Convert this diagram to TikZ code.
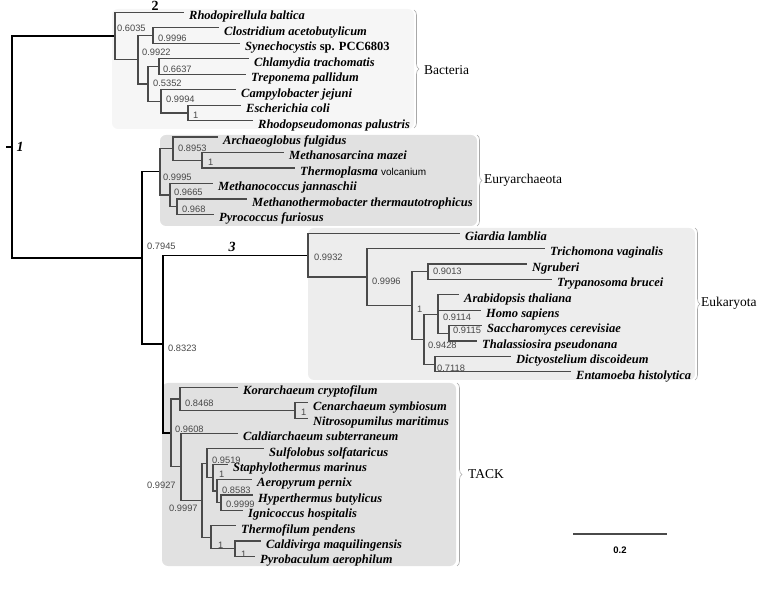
\documentclass[tikz,border=0pt]{standalone}
\usepackage{fontspec}
\setmainfont{Liberation Serif}
\newfontfamily\supfont{Liberation Sans}
\usepackage{tikz}
\usetikzlibrary{decorations.pathreplacing}

\definecolor{boxlight}{HTML}{F6F6F6}
\definecolor{boxdark}{HTML}{E1E1E1}
\definecolor{boxmid}{HTML}{EDEDED}
\definecolor{branchgray}{HTML}{4A4A4A}
\definecolor{bracegray}{HTML}{A8A8A8}
\definecolor{supgray}{HTML}{484848}

\begin{document}
\begin{tikzpicture}[x=1pt, y=-1pt,
    br/.style    ={draw=branchgray, line width=1.2pt},
    bb/.style    ={draw=black, line width=1.2pt},
    clade/.style ={fill=#1, rounded corners=6pt},
    cbrace/.style={draw=bracegray, line width=0.6pt, decorate,
                   decoration={brace, amplitude=5pt}},
    taxon/.style ={anchor=base west, inner sep=0pt, xshift=5pt, yshift=-7.3pt,
                   font=\fontsize{12.5}{14}\selectfont\bfseries\itshape},
    bs/.style    ={anchor=west, inner sep=0pt, text=supgray,
                   font=\supfont\fontsize{9.3}{10}\selectfont},
    group/.style ={anchor=west, inner sep=0pt, font=\fontsize{13.5}{15}\selectfont},
    nodeno/.style={inner sep=0pt, font=\fontsize{14}{16}\selectfont\bfseries\itshape}
  ]
  \useasboundingbox (0,0) rectangle (769,593);

  % clade boxes and braces
  \fill[clade=boxlight] (112,9)   rectangle (414,129);
  \fill[clade=boxdark]  (160,135) rectangle (477,226);
  \fill[clade=boxmid]   (308,228) rectangle (695,380);
  \fill[clade=boxdark]  (162,383) rectangle (456,566);
  \draw[cbrace] (414,10)  -- (414,128);
  \draw[cbrace] (477,135) -- (477,226);
  \draw[cbrace] (695,228) -- (695,380);
  \draw[cbrace] (457,383) -- (457,566);
  \node[group] (gBac) at (424,70)  {Bacteria};
  \node[group] (gEur) at (484,180) {Euryarchaeota};
  \node[group] (gEuk) at (701,303) {Eukaryota};
  \node[group] (gTac) at (468,474) {TACK};

  % backbone
  \coordinate (r0)   at (6,147);
  \coordinate (root) at (12,147);
  \coordinate (a0)   at (142,258);
  \coordinate (a1)   at (163,344.1);

  % Bacteria
  \coordinate (b0) at (115,36.0);
  \coordinate (b1) at (138,59.8);
  \coordinate (b2) at (153,35.5);
  \coordinate (b3) at (148,84.0);
  \coordinate (c1) at (159,66.5);
  \coordinate (c2) at (161,101.4);
  \coordinate (e1) at (188,113.0);
  \coordinate (rba) at (184,12.3);
  \coordinate (cac) at (219,27.8);
  \coordinate (syn) at (240,43.3);
  \coordinate (ctr) at (249,58.8);
  \coordinate (tpa) at (246,74.3);
  \coordinate (cje) at (236,89.8);
  \coordinate (eco) at (241,105.3);
  \coordinate (rpa) at (253,120.8);

  % Euryarchaeota
  \coordinate (e0) at (160,171.9);
  \coordinate (ea) at (173,148.6);
  \coordinate (em) at (202,160.25);
  \coordinate (eb) at (170,195.1);
  \coordinate (ep) at (177,206.75);
  \coordinate (afu) at (218,137.0);
  \coordinate (mma) at (284,152.5);
  \coordinate (tvo) at (295,168.0);
  \coordinate (mja) at (213,183.5);
  \coordinate (mth) at (247,199.0);
  \coordinate (pfu) at (214,214.5);

  % Eukaryota
  \coordinate (k0) at (308,255.2);
  \coordinate (k1) at (367,277.1);
  \coordinate (k2) at (412,305.5);
  \coordinate (n1) at (428,271.8);
  \coordinate (k3) at (424,339.2);
  \coordinate (k4) at (438,314.15);
  \coordinate (s1) at (449,333.4);
  \coordinate (d1) at (435,364.2);
  \coordinate (gla) at (460,233.3);
  \coordinate (tva) at (545,248.7);
  \coordinate (ngr) at (527,264.1);
  \coordinate (tbr) at (552,279.5);
  \coordinate (ath) at (459,294.9);
  \coordinate (hsa) at (481,310.3);
  \coordinate (sce) at (482,325.7);
  \coordinate (tps) at (477,341.1);
  \coordinate (ddi) at (511,356.5);
  \coordinate (ehi) at (571,371.9);

  % TACK
  \coordinate (t0) at (171,433.0);
  \coordinate (kg) at (180,399.0);
  \coordinate (cn) at (295,410.55);
  \coordinate (t1) at (181,466.9);
  \coordinate (t2) at (202,500.25);
  \coordinate (t3) at (207,463.3);
  \coordinate (t4) at (213,477.7);
  \coordinate (t5) at (217,491.1);
  \coordinate (t6) at (221,502.65);
  \coordinate (t7) at (211,537.2);
  \coordinate (t8) at (235,548.7);
  \coordinate (kcr) at (238,387.5);
  \coordinate (csy) at (308,402.9);
  \coordinate (nma) at (308,418.2);
  \coordinate (csu) at (238,433.6);
  \coordinate (sso) at (264,448.9);
  \coordinate (sma) at (228,464.3);
  \coordinate (ape) at (252,479.6);
  \coordinate (hbu) at (253,495.0);
  \coordinate (iho) at (243,510.3);
  \coordinate (tpe) at (236,525.7);
  \coordinate (cma) at (261,541.0);
  \coordinate (pae) at (255,556.4);

  % branches
  \draw[bb] (r0) -- (root);
  \draw[bb] (root) |- (b0)  (root) |- (a0);
  \draw[bb] (a0) |- (e0)  (a0) |- (a1);
  \draw[bb] (a1) |- (k0)  (a1) |- (t0);

  \draw[br] (b0) |- (rba)  (b0) |- (b1);
  \draw[br] (b1) |- (b2)   (b1) |- (b3);
  \draw[br] (b2) |- (cac)  (b2) |- (syn);
  \draw[br] (b3) |- (c1)   (b3) |- (c2);
  \draw[br] (c1) |- (ctr)  (c1) |- (tpa);
  \draw[br] (c2) |- (cje)  (c2) |- (e1);
  \draw[br] (e1) |- (eco)  (e1) |- (rpa);

  \draw[br] (e0) |- (ea)   (e0) |- (eb);
  \draw[br] (ea) |- (afu)  (ea) |- (em);
  \draw[br] (em) |- (mma)  (em) |- (tvo);
  \draw[br] (eb) |- (mja)  (eb) |- (ep);
  \draw[br] (ep) |- (mth)  (ep) |- (pfu);

  \draw[br] (k0) |- (gla)  (k0) |- (k1);
  \draw[br] (k1) |- (tva)  (k1) |- (k2);
  \draw[br] (k2) |- (n1)   (k2) |- (k3);
  \draw[br] (n1) |- (ngr)  (n1) |- (tbr);
  \draw[br] (k3) |- (k4)   (k3) |- (d1);
  \draw[br] (k4) |- (ath)  (k4) |- (hsa)  (k4) |- (s1);
  \draw[br] (s1) |- (sce)  (s1) |- (tps);
  \draw[br] (d1) |- (ddi)  (d1) |- (ehi);

  \draw[br] (t0) |- (kg)   (t0) |- (t1);
  \draw[br] (kg) |- (kcr)  (kg) |- (cn);
  \draw[br] (cn) |- (csy)  (cn) |- (nma);
  \draw[br] (t1) |- (csu)  (t1) |- (t2);
  \draw[br] (t2) |- (t3)   (t2) |- (t7);
  \draw[br] (t3) |- (sso)  (t3) |- (t4);
  \draw[br] (t4) |- (sma)  (t4) |- (t5);
  \draw[br] (t5) |- (ape)  (t5) |- (t6);
  \draw[br] (t6) |- (hbu)  (t6) |- (iho);
  \draw[br] (t7) |- (tpe)  (t7) |- (t8);
  \draw[br] (t8) |- (cma)  (t8) |- (pae);

  % taxa
  \node[taxon] (nRba) at (rba) {Rhodopirellula baltica};
  \node[taxon] (nCac) at (cac) {Clostridium acetobutylicum};
  \node[taxon] (nSyn) at (syn) {Synechocystis\upshape{} sp. PCC6803};
  \node[taxon] (nCtr) at (ctr) {Chlamydia trachomatis};
  \node[taxon] (nTpa) at (tpa) {Treponema pallidum};
  \node[taxon] (nCje) at (cje) {Campylobacter jejuni};
  \node[taxon] (nEco) at (eco) {Escherichia coli};
  \node[taxon] (nRpa) at (rpa) {Rhodopseudomonas palustris};

  \node[taxon] (nAfu) at (afu) {Archaeoglobus fulgidus};
  \node[taxon] (nMma) at (mma) {Methanosarcina mazei};
  \node[taxon] (nTvo) at (tvo) {Thermoplasma {\supfont\mdseries\upshape\fontsize{10}{12}\selectfont volcanium}};
  \node[taxon] (nMja) at (mja) {Methanococcus jannaschii};
  \node[taxon] (nMth) at (mth) {Methanothermobacter thermautotrophicus};
  \node[taxon] (nPfu) at (pfu) {Pyrococcus furiosus};

  \node[taxon] (nGla) at (gla) {Giardia lamblia};
  \node[taxon] (nTva) at (tva) {Trichomona vaginalis};
  \node[taxon] (nNgr) at (ngr) {Ngruberi};
  \node[taxon] (nTbr) at (tbr) {Trypanosoma brucei};
  \node[taxon] (nAth) at (ath) {Arabidopsis thaliana};
  \node[taxon] (nHsa) at (hsa) {Homo sapiens};
  \node[taxon] (nSce) at (sce) {Saccharomyces cerevisiae};
  \node[taxon] (nTps) at (tps) {Thalassiosira pseudonana};
  \node[taxon] (nDdi) at (ddi) {Dictyostelium discoideum};
  \node[taxon] (nEhi) at (ehi) {Entamoeba histolytica};

  \node[taxon] (nKcr) at (kcr) {Korarchaeum cryptofilum};
  \node[taxon] (nCsy) at (csy) {Cenarchaeum symbiosum};
  \node[taxon] (nNma) at (nma) {Nitrosopumilus maritimus};
  \node[taxon] (nCsu) at (csu) {Caldiarchaeum subterraneum};
  \node[taxon] (nSso) at (sso) {Sulfolobus solfataricus};
  \node[taxon] (nSma) at (sma) {Staphylothermus marinus};
  \node[taxon] (nApe) at (ape) {Aeropyrum pernix};
  \node[taxon] (nHbu) at (hbu) {Hyperthermus butylicus};
  \node[taxon] (nIho) at (iho) {Ignicoccus hospitalis};
  \node[taxon] (nTpe) at (tpe) {Thermofilum pendens};
  \node[taxon] (nCma) at (cma) {Caldivirga maquilingensis};
  \node[taxon] (nPae) at (pae) {Pyrobaculum aerophilum};

  % support values
  \node[bs] at (117,28)    {0.6035};
  \node[bs] at (158,38)    {0.9996};
  \node[bs] at (142,52)    {0.9922};
  \node[bs] at (163,69)    {0.6637};
  \node[bs] at (153,83)    {0.5352};
  \node[bs] at (166,99)    {0.9994};
  \node[bs] at (193,115)   {1};
  \node[bs] at (178,148)   {0.8953};
  \node[bs] at (208,162)   {1};
  \node[bs] at (163,177)   {0.9995};
  \node[bs] at (174,192)   {0.9665};
  \node[bs] at (182,209)   {0.968};
  \node[bs] at (147,246)   {0.7945};
  \node[bs] at (168,348)   {0.8323};
  \node[bs] at (314,257.7) {0.9932};
  \node[bs] at (372,281.7) {0.9996};
  \node[bs] at (433,271.7) {0.9013};
  \node[bs] at (417,309)   {1};
  \node[bs] at (443,317)   {0.9114};
  \node[bs] at (453,330)   {0.9115};
  \node[bs] at (428,345)   {0.9428};
  \node[bs] at (437,368.3) {0.7118};
  \node[bs] at (185,403)   {0.8468};
  \node[bs] at (301,412)   {1};
  \node[bs] at (175,429)   {0.9608};
  \node[bs] at (147,485)   {0.9927};
  \node[bs] at (169,508)   {0.9997};
  \node[bs] at (212,460)   {0.9519};
  \node[bs] at (219,474)   {1};
  \node[bs] at (222,490)   {0.8583};
  \node[bs] at (226,504)   {0.9999};
  \node[bs] at (218,545)   {1};
  \node[bs] at (241,554)   {1};

  % branch numbers
  \node[nodeno] (no1) at (20,147)  {1};
  \node[nodeno, font=\fontsize{14}{16}\selectfont\bfseries] (no2) at (155,6) {2};
  \node[nodeno] (no3) at (232,247) {3};

  % scale bar
  \coordinate (sb1) at (573,534);
  \coordinate (sb2) at (667,534);
  \draw[draw=branchgray, line width=1.3pt] (sb1) -- (sb2);
  \node[inner sep=0pt, font=\supfont\bfseries\fontsize{9.5}{11}\selectfont] (sbl) at (620,550) {0.2};
\end{tikzpicture}
\end{document}
